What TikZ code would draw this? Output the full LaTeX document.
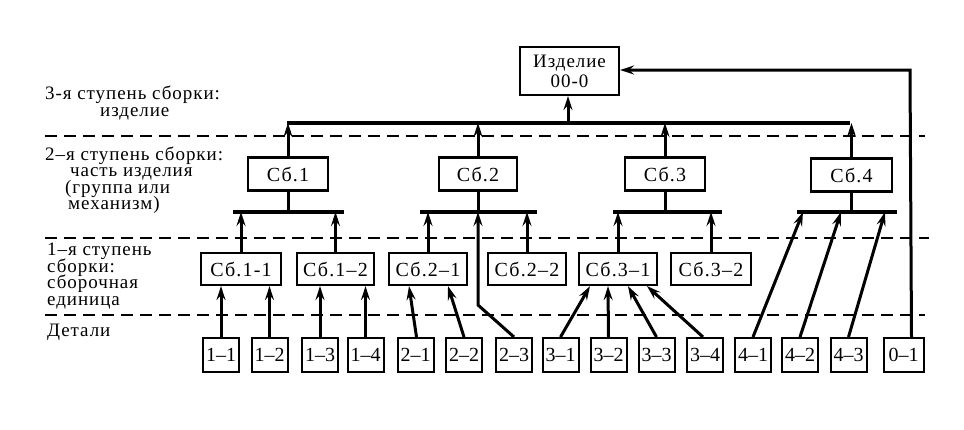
\documentclass[tikz,border=0pt]{standalone}
\usepackage{fontspec}
\setmainfont{Liberation Serif}
\newfontfamily\lsfont[LetterSpace=6]{Liberation Serif}
\newfontfamily\lbfont[LetterSpace=5]{Liberation Serif}
\usetikzlibrary{arrows.meta}
\newcommand\tightlines{\lineskiplimit=-30pt\relax}
\begin{document}
\begin{tikzpicture}[x=1pt,y=-1pt,
  sbbox/.style={draw,line width=2.2pt,inner sep=0pt,minimum height=33pt,font=\lsfont\fontsize{20}{21}\selectfont},
  detbox/.style={draw,line width=2pt,inner sep=0pt,minimum width=36pt,minimum height=34pt,font=\fontsize{20}{21}\selectfont},
  bus/.style={line width=3.4pt},
  link/.style={line width=3pt},
  arr/.style={line width=3pt,-{Stealth[length=14pt,width=9pt,inset=5pt]}},
  levelline/.style={line width=2pt,dash pattern=on 12pt off 7pt},
  lab/.style={anchor=base west,inner sep=0pt,align=left,
    font={\lbfont\fontsize{19}{16.5}\selectfont\tightlines}}
]
\useasboundingbox (0,0) rectangle (964,429);

% level separators
\coordinate (L1a) at (45,136); \coordinate (L1b) at (925,136);
\coordinate (L2a) at (45,238); \coordinate (L2b) at (929,238);
\coordinate (L3a) at (45,315); \coordinate (L3b) at (925,315);
\draw[levelline] (L1a) -- (L1b);
\draw[levelline] (L2a) -- (L2b);
\draw[levelline] (L3a) -- (L3b);

% left labels (anchored at the baseline of their last line)
\node[lab] (t3) at (45,116) {3-я ступень сборки:\\\hspace*{55pt}изделие};
\node[lab] (t2) at (45,209.5) {2–я ступень сборки:\\\hspace*{25pt}часть изделия\\\hspace*{20pt}(группа или\\\hspace*{23pt}механизм)};
\node[lab] (t1) at (47,305) {1–я ступень\\сборки:\\сборочная\\единица};
\node[lab] (t0) at (47,336) {Детали};

% product
\node[sbbox,minimum width=99pt,minimum height=48pt,align=center,font=\lbfont\fontsize{19}{20}\selectfont] (izd) at (569.5,71) {Изделие\\00-0};

% level 2 boxes
\node[sbbox,minimum width=80pt] (sb1) at (288,174) {Сб.1};
\node[sbbox,minimum width=78pt] (sb2) at (478,174) {Сб.2};
\node[sbbox,minimum width=80pt] (sb3) at (665,174) {Сб.3};
\node[sbbox,minimum width=81pt] (sb4) at (851.5,175) {Сб.4};

% level 1 boxes
\node[sbbox,minimum width=80pt,minimum height=32pt] (sb11) at (241,269) {Сб.1-1};
\node[sbbox,minimum width=77pt,minimum height=32pt] (sb12) at (335.5,269) {Сб.1–2};
\node[sbbox,minimum width=78pt,minimum height=32pt] (sb21) at (428,269) {Сб.2–1};
\node[sbbox,minimum width=78pt,minimum height=32pt] (sb22) at (527,269) {Сб.2–2};
\node[sbbox,minimum width=78pt,minimum height=32pt] (sb31) at (618,269) {Сб.3–1};
\node[sbbox,minimum width=80pt,minimum height=32pt] (sb32) at (711,269) {Сб.3–2};

% details
\node[detbox] (d11) at (221,355) {1–1};
\node[detbox] (d12) at (269.5,355) {1–2};
\node[detbox] (d13) at (320,355) {1–3};
\node[detbox] (d14) at (365.5,355) {1–4};
\node[detbox] (d21) at (415.5,355) {2–1};
\node[detbox] (d22) at (464,355) {2–2};
\node[detbox] (d23) at (514,355) {2–3};
\node[detbox] (d31) at (560.5,355) {3–1};
\node[detbox] (d32) at (608.5,355) {3–2};
\node[detbox] (d33) at (656.5,355) {3–3};
\node[detbox] (d34) at (705,355) {3–4};
\node[detbox] (d41) at (753,355) {4–1};
\node[detbox] (d42) at (800,355) {4–2};
\node[detbox] (d43) at (848.5,355) {4–3};
\node[detbox,minimum width=40pt] (d01) at (903.5,355) {0–1};

% buses
\coordinate (TA) at (287,123); \coordinate (TB) at (850,123);
\draw[bus] (TA) -- (TB);
\coordinate (B1a) at (233,212); \coordinate (B1b) at (344,212);
\coordinate (B2a) at (420,212); \coordinate (B2b) at (537,212);
\coordinate (B3a) at (613,212); \coordinate (B3b) at (722,212);
\coordinate (B4a) at (797,212); \coordinate (B4b) at (897,212);
\draw[bus] (B1a) -- (B1b);
\draw[bus] (B2a) -- (B2b);
\draw[bus] (B3a) -- (B3b);
\draw[bus] (B4a) -- (B4b);

% to product
\coordinate (Tizd) at (568,123);
\draw[arr] (Tizd) -- (Tizd |- izd.south);
\draw[arr] (sb1.north) -- (sb1.north |- TA);
\draw[arr] (sb2.north) -- (sb2.north |- TA);
\draw[arr] (sb3.north) -- (sb3.north |- TA);
\draw[arr] (sb4.north) -- (sb4.north |- TA);

% level 2 boxes down to their buses
\draw[link] (sb1.south) -- (sb1.south |- B1a);
\draw[link] (sb2.south) -- (sb2.south |- B2a);
\draw[link] (sb3.south) -- (sb3.south |- B3a);
\draw[link] (sb4.south) -- (sb4.south |- B4a);

% level 1 boxes up to buses
\draw[arr] (sb11.north) -- (sb11.north |- B1a);
\draw[arr] (sb12.north) -- (sb12.north |- B1a);
\draw[arr] (sb21.north) -- (sb21.north |- B2a);
\draw[arr] (sb22.north) -- (sb22.north |- B2a);
\draw[arr] (sb31.north) -- (sb31.north |- B3a);
\draw[arr] (sb32.north) -- (sb32.north |- B3a);

% details to level 1
\draw[arr] (d11.north) -- (d11.north |- sb11.south);
\draw[arr] (d12.north) -- (d12.north |- sb11.south);
\draw[arr] (d13.north) -- (d13.north |- sb12.south);
\draw[arr] (d14.north) -- (d14.north |- sb12.south);
\draw[arr] ([xshift=1pt]d21.north) -- ([xshift=-19pt]sb21.south);
\draw[arr] (d22.north) -- ([xshift=20pt]sb21.south);
\coordinate (K23) at (478,305);
\draw[arr] (d23.north) -- (K23) -- (K23 |- B2a);
\draw[arr] (d31.north) -- ([xshift=-28pt]sb31.south);
\draw[arr] (d32.north) -- ([xshift=-10pt]sb31.south);
\draw[arr] (d33.north) -- ([xshift=10pt]sb31.south);
\draw[arr] ([xshift=-2pt]d34.north) -- ([xshift=29pt]sb31.south);

% details to Sb.4
\coordinate (E41) at (803,212); \coordinate (E42) at (841,212); \coordinate (E43) at (885,212);
\draw[arr] (d41.north) -- (E41);
\draw[arr] (d42.north) -- (E42);
\draw[arr] (d43.north) -- (E43);

% detail 0-1 directly to product
\coordinate (K01) at (910,70);
\draw[arr] ([xshift=8pt]d01.north) -- (K01) -- (K01 -| izd.east);
\end{tikzpicture}
\end{document}
